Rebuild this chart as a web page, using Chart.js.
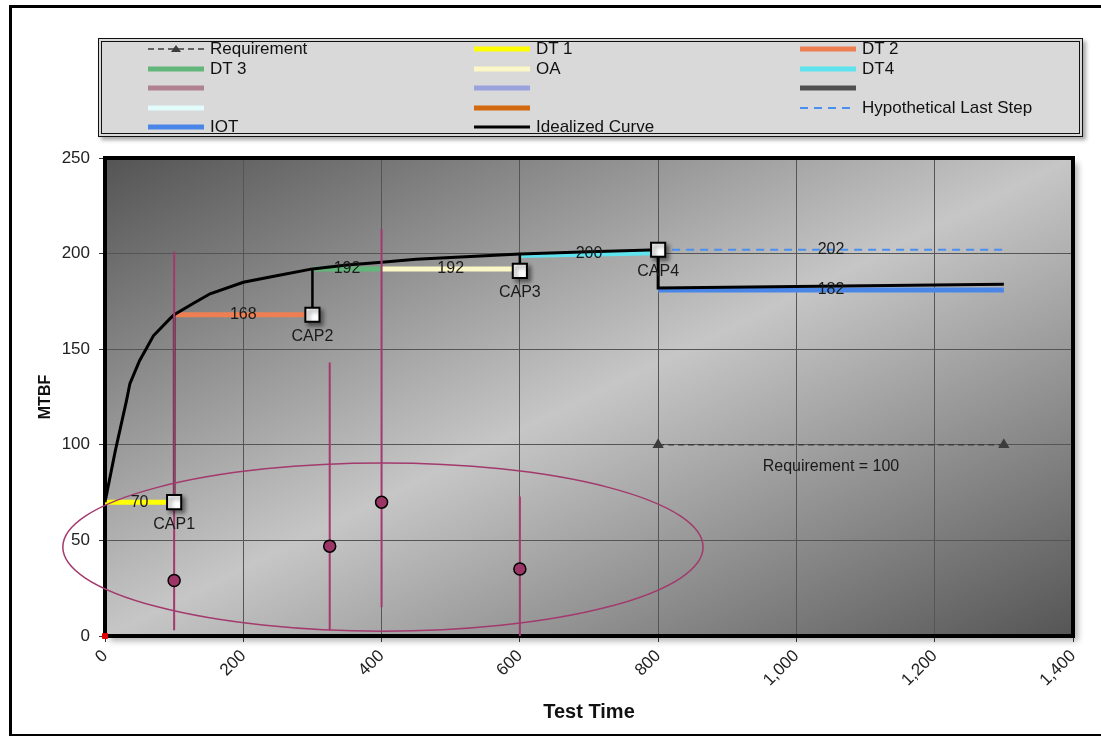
<!DOCTYPE html>
<html>
<head>
<meta charset="utf-8">
<script src="https://cdn.jsdelivr.net/npm/chart.js@4.4.0/dist/chart.umd.min.js"></script>
<style>
    body { margin: 0; background: #fff; font-family: 'Liberation Sans', Arial, sans-serif; overflow: hidden; }
    #frame { position: absolute; left: 9px; top: 5px; width: 1110px; height: 726px; border: 3px solid #000; }
    #graf { position: absolute; left: 0; top: 0; }
    #legend {
        position: absolute; left: 98px; top: 38px; width: 977px; height: 91px;
        border: 4px double #111; background: #d9d9d9; box-shadow: 3px 3px 4px rgba(0, 0, 0, 0.35);
    }
    .item { position: absolute; height: 20px; line-height: 20px; font-size: 17px; color: #111; white-space: nowrap; }
    .item canvas { position: absolute; left: 0; top: 5px; }
    .item span { position: absolute; left: 62px; top: 0; }
</style>
</head>
<body>
<div id="frame"></div>
<canvas id="graf" width="1101" height="736"></canvas>
<div id="legend"></div>

<script>
// eixos
const xTicks = [0, 200, 400, 600, 800, 1000, 1200, 1400];
const yTicks = [0, 50, 100, 150, 200, 250];

// curva idealizada (inclui o degrau em 800)
const curveX = [0, 15, 31, 36, 50, 70, 94, 100, 128, 152, 200, 250, 300, 350, 400, 450, 500, 600, 700, 800, 800, 1300];
const curveY = [70, 97, 123, 132, 144, 157, 166, 168, 174, 179, 185, 188.5, 192, 194, 195.5, 197, 198, 199.8, 201, 202, 182, 184];

// fases de teste (segmentos horizontais)
const segNames = ['DT 1', 'DT 2', 'DT 3', 'OA', 'DT4'];
const segStartX = [0, 100, 300, 400, 600];
const segEndX = [100, 300, 400, 600, 800];
const segStartY = [70, 168, 192, 192, 199];
const segEndY = [70, 168, 192, 192, 200.5];
const segLabels = ['70', '168', '192', '192', '200'];

// IOT e último degrau hipotético
const iotX = [800, 1300];
const iotY = [181, 181];
const iotLabel = '182';
const hypoX = [800, 1300];
const hypoY = [202, 202];
const hypoLabel = '202';

// requisito
const reqX = [800, 1300];
const reqY = [100, 100];
const reqLabel = 'Requirement = 100';
const reqLabelX = 1050;

// pontos CAP e ligações verticais até a curva
const capNames = ['CAP1', 'CAP2', 'CAP3', 'CAP4'];
const capX = [100, 300, 600, 800];
const capY = [70, 168, 191, 202];
const capTopY = [168, 192, 200, 202];

// observações com barras verticais
const obsX = [100, 325, 400, 600];
const obsY = [29, 47, 70, 35];
const obsLow = [3, 3, 15, 0];
const obsHigh = [201, 143, 213, 73];

// elipse em volta das observações (centro e raios em unidades dos eixos)
const ellipseCenter = [402, 46.5];
const ellipseRadius = [463, 44];

const FONT = "'Liberation Sans', Arial, sans-serif";
const segColors = ['#ffff00', '#ee7f52', '#62b67a', '#fbf7c6', '#5fe3ef'];
const blankColors = ['#b08290', '#99a2dc', '#505050', '#e2fbfb', '#d2690f'];

function pts(xs, ys) {
    return xs.map(function (x, i) { return { x: x, y: ys[i] }; });
}

function lineSet(label, data, color, width, extra) {
    return Object.assign({
        label: label,
        data: data,
        showLine: true,
        borderColor: color,
        backgroundColor: color,
        borderWidth: width,
        pointRadius: 0,
        pointHoverRadius: 0,
        fill: false,
        tension: 0,
        inLegend: true,
        order: 5
    }, extra || {});
}

function buildDatasets() {
    const ds = [];
    ds.push(lineSet('Requirement', pts(reqX, reqY), '#3c3c3c', 1.5, {
        borderDash: [6, 4], pointStyle: 'triangle', pointRadius: 5, swatch: 'triangle', order: 2
    }));
    for (let i = 0; i < segNames.length; i++) {
        ds.push(lineSet(segNames[i], pts([segStartX[i], segEndX[i]], [segStartY[i], segEndY[i]]), segColors[i], 5, { order: 6 }));
    }
    blankColors.forEach(function (c) { ds.push(lineSet('', [], c, 5)); });
    ds.push(lineSet('Hypothetical Last Step', pts(hypoX, hypoY), '#4a8ef0', 2, { borderDash: [8, 6], order: 6 }));
    ds.push(lineSet('IOT', pts(iotX, iotY), '#4a86e8', 5, { order: 6 }));
    ds.push(lineSet('Idealized Curve', pts(curveX, curveY), '#000', 3, { order: 4 }));

    // ligações verticais CAP -> curva (com quebras)
    const steps = [];
    for (let i = 0; i < capX.length - 1; i++) {
        steps.push({ x: capX[i], y: capY[i] }, { x: capX[i], y: capTopY[i] }, { x: capX[i], y: null });
    }
    ds.push(lineSet('steps', steps, '#000', 2.5, { inLegend: false, order: 4 }));

    // barras das observações
    const bars = [];
    for (let i = 0; i < obsX.length; i++) {
        bars.push({ x: obsX[i], y: obsLow[i] }, { x: obsX[i], y: obsHigh[i] }, { x: obsX[i], y: null });
    }
    ds.push(lineSet('bars', bars, '#a3396d', 2, { inLegend: false, order: 3 }));

    ds.push({
        label: 'obs', data: pts(obsX, obsY), showLine: false, inLegend: false, order: 1,
        pointRadius: 6, pointHoverRadius: 6, pointBackgroundColor: '#9c3566', pointBorderColor: '#000', pointBorderWidth: 1.5
    });
    ds.push({
        label: 'caps', data: pts(capX, capY), showLine: false, inLegend: false, order: 0, shadow: true,
        pointStyle: 'rect', pointRadius: 10, pointHoverRadius: 10,
        pointBackgroundColor: '#fff', pointBorderColor: '#000', pointBorderWidth: 2
    });
    ds.push({
        label: 'origin', data: [{ x: 0, y: 0 }], showLine: false, inLegend: false, order: 0, clip: false,
        pointStyle: 'rect', pointRadius: 3.5, pointBackgroundColor: '#e00000', pointBorderColor: '#e00000'
    });
    return ds;
}

// fundo em degradê e moldura da área do gráfico
const plotFrame = {
    id: 'plotFrame',
    beforeDraw: function (chart) {
        const ctx = chart.ctx, a = chart.chartArea;
        const w = a.right - a.left, h = a.bottom - a.top;
        ctx.save();
        ctx.fillStyle = 'rgba(0,0,0,0.3)';
        ctx.filter = 'blur(3px)';
        ctx.fillRect(a.left + 5, a.top + 5, w, h);
        ctx.filter = 'none';
        const cx = a.left + w / 2, cy = a.top + h / 2;
        const s = w * h / (w * w + h * h);
        const g = ctx.createLinearGradient(cx - s * h, cy - s * w, cx + s * h, cy + s * w);
        g.addColorStop(0, '#545454');
        g.addColorStop(0.5, '#c6c6c6');
        g.addColorStop(1, '#555555');
        ctx.fillStyle = g;
        ctx.fillRect(a.left, a.top, w, h);
        ctx.restore();
    },
    beforeDatasetsDraw: function (chart) {
        const ctx = chart.ctx, a = chart.chartArea;
        ctx.save();
        ctx.strokeStyle = '#000';
        ctx.lineWidth = 4;
        ctx.strokeRect(a.left, a.top, a.right - a.left, a.bottom - a.top);
        ctx.restore();
    },
    // sombra nos quadrados CAP
    beforeDatasetDraw: function (chart, args) {
        if (chart.data.datasets[args.index].shadow) {
            chart.ctx.save();
            chart.ctx.shadowColor = 'rgba(0,0,0,0.45)';
            chart.ctx.shadowBlur = 4;
            chart.ctx.shadowOffsetX = 3;
            chart.ctx.shadowOffsetY = 3;
        }
    },
    afterDatasetDraw: function (chart, args) {
        if (chart.data.datasets[args.index].shadow) chart.ctx.restore();
    }
};

// elipse e rótulos de texto
const annotations = {
    id: 'annotations',
    afterDatasetsDraw: function (chart) {
        const ctx = chart.ctx, x = chart.scales.x, y = chart.scales.y;
        ctx.save();
        const ex = x.getPixelForValue(ellipseCenter[0]), ey = y.getPixelForValue(ellipseCenter[1]);
        const rx = x.getPixelForValue(ellipseCenter[0] + ellipseRadius[0]) - ex;
        const ry = ey - y.getPixelForValue(ellipseCenter[1] + ellipseRadius[1]);
        ctx.beginPath();
        ctx.ellipse(ex, ey, rx, ry, 0, 0, Math.PI * 2);
        ctx.strokeStyle = '#a3396d';
        ctx.lineWidth = 1.5;
        ctx.stroke();

        ctx.fillStyle = '#1a1a1a';
        ctx.textAlign = 'center';
        ctx.textBaseline = 'middle';
        ctx.font = '16px ' + FONT;
        function label(text, vx, vy, dy) {
            ctx.fillText(text, x.getPixelForValue(vx), y.getPixelForValue(vy) + (dy || 0));
        }
        for (let i = 0; i < segNames.length; i++) {
            label(segLabels[i], (segStartX[i] + segEndX[i]) / 2, (segStartY[i] + segEndY[i]) / 2);
        }
        label(iotLabel, (iotX[0] + iotX[1]) / 2, iotY[0]);
        label(hypoLabel, (hypoX[0] + hypoX[1]) / 2, hypoY[0]);
        for (let i = 0; i < capNames.length; i++) {
            label(capNames[i], capX[i], capY[i], 22);
        }
        label(reqLabel, reqLabelX, reqY[0], 22);
        ctx.restore();
    }
};

function buildLegend(chart) {
    const box = document.getElementById('legend');
    const colX = [46, 372, 698];
    const items = chart.data.datasets.filter(function (d) { return d.inLegend; });
    items.forEach(function (d, i) {
        const div = document.createElement('div');
        div.className = 'item';
        div.style.left = colX[i % 3] + 'px';
        div.style.top = (-3 + Math.floor(i / 3) * 19.5) + 'px';
        const c = document.createElement('canvas');
        c.width = 56; c.height = 10;
        const g = c.getContext('2d');
        g.strokeStyle = d.borderColor;
        g.lineWidth = d.borderWidth;
        if (d.borderDash) g.setLineDash(d.borderDash);
        g.beginPath(); g.moveTo(0, 5); g.lineTo(56, 5); g.stroke();
        if (d.swatch === 'triangle') {
            g.fillStyle = d.borderColor;
            g.beginPath(); g.moveTo(28, 1); g.lineTo(33, 8); g.lineTo(23, 8); g.closePath(); g.fill();
        }
        div.appendChild(c);
        const span = document.createElement('span');
        span.textContent = d.label;
        div.appendChild(span);
        box.appendChild(div);
    });
}

function createChart() {
    const ctx = document.getElementById('graf').getContext('2d');
    const chart = new Chart(ctx, {
        type: 'scatter',
        data: { datasets: buildDatasets() },
        options: {
            responsive: false,
            animation: false,
            devicePixelRatio: 1,
            layout: { padding: { top: 158, right: 28, left: 0, bottom: 0 } },
            plugins: { legend: { display: false }, tooltip: { enabled: false } },
            scales: {
                x: {
                    type: 'linear',
                    min: xTicks[0],
                    max: xTicks[xTicks.length - 1],
                    afterFit: function (s) { s.height = 100; },
                    afterBuildTicks: function (s) { s.ticks = xTicks.map(function (v) { return { value: v }; }); },
                    ticks: {
                        minRotation: 45, maxRotation: 45, autoSkip: false, padding: 4, color: '#222',
                        font: { family: FONT, size: 17 },
                        callback: function (v) { return v.toLocaleString('en-US'); }
                    },
                    grid: { color: '#555', lineWidth: 1, tickLength: 6, tickColor: '#333' },
                    border: { display: false },
                    title: {
                        display: true, text: 'Test Time', color: '#111',
                        font: { family: FONT, size: 20, weight: 'bold' },
                        padding: { top: 0, bottom: 12 }
                    }
                },
                y: {
                    min: yTicks[0],
                    max: yTicks[yTicks.length - 1],
                    afterFit: function (s) { s.width = 105; },
                    afterBuildTicks: function (s) { s.ticks = yTicks.map(function (v) { return { value: v }; }); },
                    ticks: { padding: 9, color: '#222', font: { family: FONT, size: 17 } },
                    grid: { color: '#555', lineWidth: 1, tickLength: 6, tickColor: '#333' },
                    border: { display: false },
                    title: {
                        display: true, text: 'MTBF', color: '#111',
                        font: { family: FONT, size: 16, weight: 'bold' },
                        padding: { top: 36, bottom: 0 }
                    }
                }
            }
        },
        plugins: [plotFrame, annotations]
    });
    buildLegend(chart);
}

document.addEventListener('DOMContentLoaded', function () {
    createChart();
});
</script>
</body>
</html>
